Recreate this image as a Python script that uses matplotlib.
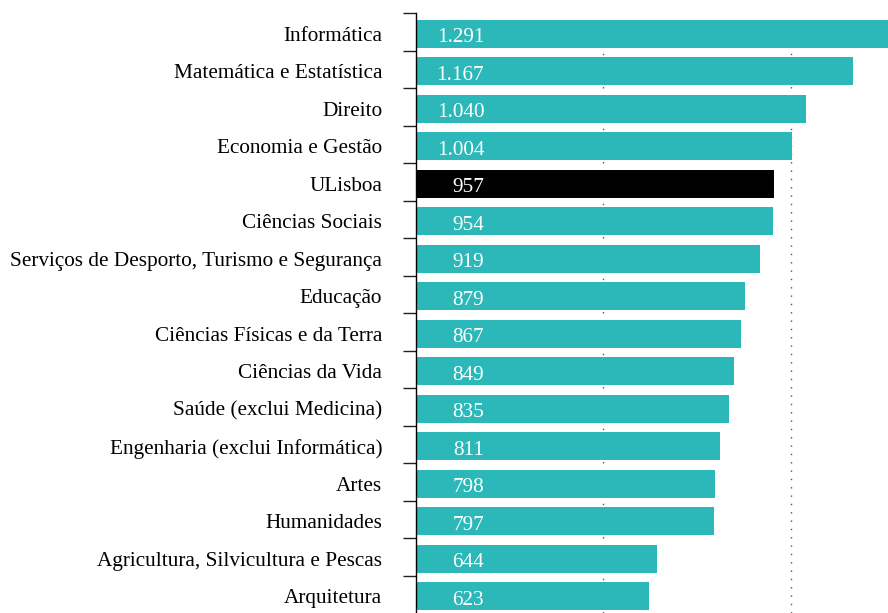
import matplotlib.pyplot as plt
import numpy as np

# categorias e valores (ordem de cima para baixo)
categorias = ['Informática', 'Matemática e Estatística', 'Direito', 'Economia e Gestão',
              'ULisboa', 'Ciências Sociais', 'Serviços de Desporto, Turismo e Segurança',
              'Educação', 'Ciências Físicas e da Terra', 'Ciências da Vida',
              'Saúde (exclui Medicina)', 'Engenharia (exclui Informática)', 'Artes',
              'Humanidades', 'Agricultura, Silvicultura e Pescas', 'Arquitetura']
valores = [1291, 1167, 1040, 1004, 957, 954, 919, 879, 867, 849, 835, 811, 798, 797, 644, 623]
destaque = 'ULisboa'

plt.rcParams['font.family'] = ['Liberation Serif', 'DejaVu Serif']

fig = plt.figure(figsize=(8.88, 6.13), dpi=100)
ax = fig.add_axes([415.5 / 888, 0, 1 - 415.5 / 888, 600 / 613])

y = np.arange(len(categorias))
cores = ['#000000' if c == destaque else '#2cb7b8' for c in categorias]
ax.barh(y, valores, height=0.74, color=cores, zorder=2)

# rótulos de valor
for yi, v in zip(y, valores):
    txt = f'{v:,}'.replace(',', '.')
    ax.text(183, yi + 0.04, txt, color='white', fontsize=15.3, ha='right',
            va='center_baseline', zorder=3)

ax.set_xlim(0, 1260)
ax.set_ylim(len(categorias) - 0.556, -0.556)

ax.set_yticks(y)
ax.set_yticklabels(categorias, fontsize=15.3)
ax.set_yticks(np.arange(len(categorias)) - 0.556, minor=True)
ax.tick_params(axis='y', which='major', length=0, pad=24)
ax.tick_params(axis='y', which='minor', length=9.5, width=1, color='#222222')
ax.set_xticks([])

for s in ['top', 'right', 'bottom']:
    ax.spines[s].set_visible(False)
ax.spines['left'].set_linewidth(1)

for gx in [500, 1000]:
    ax.axvline(gx, color='#555555', lw=1, ls=(0, (1, 5)), zorder=1)

fig.savefig('out.png', dpi=100)
